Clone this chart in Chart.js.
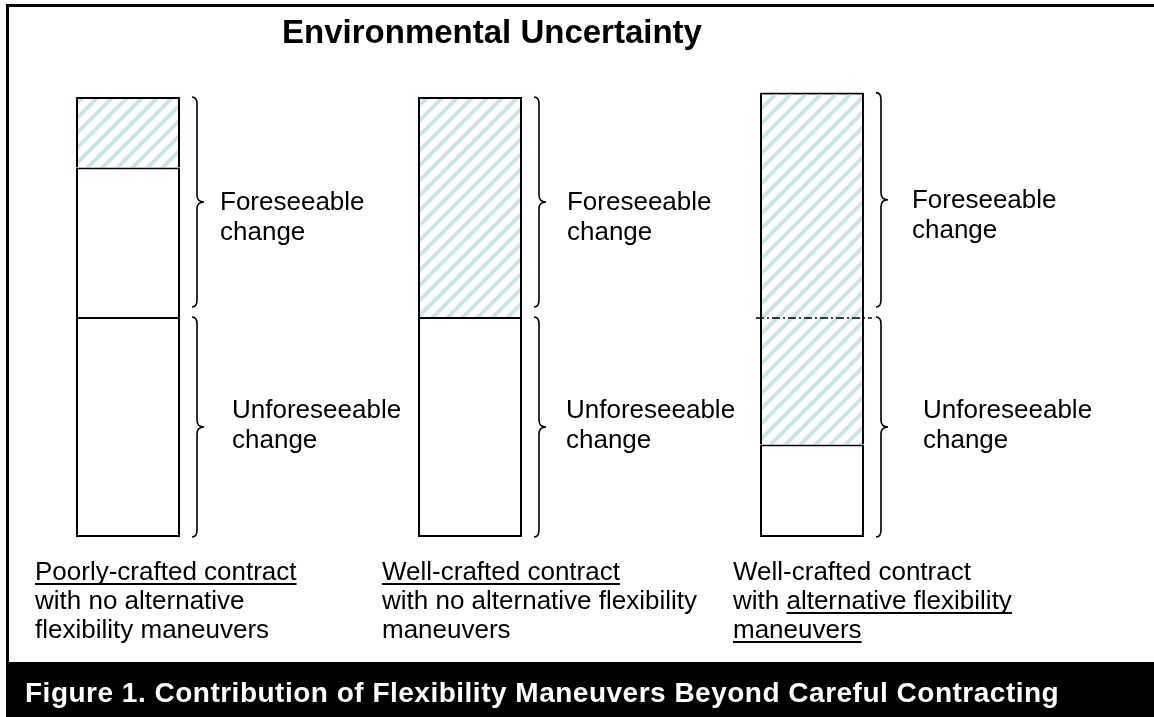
<!DOCTYPE html>
<html>
<head>
<meta charset="utf-8">
<title>Environmental Uncertainty</title>
<script src="https://cdn.jsdelivr.net/npm/chart.js@4.4.1/dist/chart.umd.min.js"></script>
<style>
  html, body { margin: 0; padding: 0; background: #fff; }
  #wrap { width: 1154px; height: 717px; }
</style>
</head>
<body>
<div id="wrap"><canvas id="chart" width="1154" height="717"></canvas></div>
<script>
// three contracts, one bar each
const categories = ["Poorly-crafted contract", "Well-crafted contract", "Well-crafted contract"];
// share of environmental change (unforeseeable at the bottom, foreseeable on top)
const unforeseeableUncovered = [50, 50, 21];
const unforeseeableCovered = [null, null, 29];
const foreseeableUncovered = [34, null, null];
const foreseeableCovered = [16, 50, 51];
const changeSplit = 50; // boundary between unforeseeable and foreseeable change

const chartTitle = "Environmental Uncertainty";
const figureCaption = "Figure 1. Contribution of Flexibility Maneuvers Beyond Careful Contracting";
const foreseeableText = ["Foreseeable", "change"];
const unforeseeableText = ["Unforeseeable", "change"];
// caption under each bar, u = underlined run
const barCaptions = [
  [[{ t: "Poorly-crafted contract", u: true }], [{ t: "with no alternative" }], [{ t: "flexibility maneuvers" }]],
  [[{ t: "Well-crafted contract", u: true }], [{ t: "with no alternative flexibility" }], [{ t: "maneuvers" }]],
  [[{ t: "Well-crafted contract" }], [{ t: "with " }, { t: "alternative flexibility", u: true }], [{ t: "maneuvers", u: true }]]
];

// layout tweaks (pixels)
const FONT = "'Liberation Sans', Arial, sans-serif";
const BAR_W = 104;
const foreTextDx = [40, 45, 48];     // from bar right edge
const unforeTextDx = [52, 44, 59];
const captionDx = [-93, -88, -79];   // from bar centre
const HATCH = "#c8e6ea";

function makeHatch() {
  const c = document.createElement("canvas");
  c.width = 15; c.height = 15;
  const g = c.getContext("2d");
  g.strokeStyle = HATCH;
  g.lineWidth = 4;
  g.beginPath();
  g.moveTo(-2, 17); g.lineTo(17, -2);
  g.moveTo(-2, 2); g.lineTo(2, -2);
  g.moveTo(13, 17); g.lineTo(17, 13);
  g.stroke();
  return g.createPattern(c, "repeat");
}

const hatch = makeHatch();
const toPoints = arr => arr.map((v, i) => ({ x: i, y: v }));
const totals = categories.map((c, i) =>
  [unforeseeableUncovered, unforeseeableCovered, foreseeableUncovered, foreseeableCovered]
    .reduce((s, a) => s + (a[i] || 0), 0));

function drawBrace(ctx, x, y1, y2) {
  const mid = (y1 + y2) / 2, r = 7, bx = x + 5, tip = x + 12;
  ctx.beginPath();
  ctx.moveTo(x, y1);
  ctx.quadraticCurveTo(bx, y1, bx, y1 + r);
  ctx.lineTo(bx, mid - r);
  ctx.quadraticCurveTo(bx, mid, tip, mid);
  ctx.quadraticCurveTo(bx, mid, bx, mid + r);
  ctx.lineTo(bx, y2 - r);
  ctx.quadraticCurveTo(bx, y2, x, y2);
  ctx.stroke();
}

const decorPlugin = {
  id: "decor",
  beforeDraw(chart) {
    const ctx = chart.ctx;
    ctx.save();
    ctx.fillStyle = "#fff";
    ctx.fillRect(0, 0, chart.width, chart.height);
    ctx.fillStyle = "#000";
    ctx.fillRect(6, 4, chart.width - 6, 3);
    ctx.fillRect(6, 4, 3, 660);
    ctx.fillRect(6, 662, chart.width - 6, chart.height - 662);
    ctx.fillStyle = "#fff";
    ctx.font = "bold 28px " + FONT;
    ctx.letterSpacing = "0.5px";
    ctx.textBaseline = "alphabetic";
    ctx.fillText(figureCaption, 25, 702);
    ctx.restore();
  },
  afterDatasetsDraw(chart) {
    const ctx = chart.ctx;
    const xs = chart.scales.x, ys = chart.scales.y;
    const ySplit = ys.getPixelForValue(changeSplit);
    const yZero = ys.getPixelForValue(0);
    ctx.save();
    ctx.strokeStyle = "#000";
    ctx.fillStyle = "#000";
    ctx.font = "26px " + FONT;
    ctx.textBaseline = "alphabetic";
    categories.forEach((cat, i) => {
      const cx = xs.getPixelForValue(i);
      const right = cx + BAR_W / 2;
      const yTop = ys.getPixelForValue(totals[i]);

      // dash-dot split line where hatching crosses the boundary
      if (unforeseeableCovered[i] != null) {
        ctx.save();
        ctx.lineWidth = 1.6;
        ctx.setLineDash([8, 3, 2, 3]);
        ctx.beginPath();
        ctx.moveTo(cx - BAR_W / 2 - 4, ySplit + 1);
        ctx.lineTo(right + 8, ySplit + 1);
        ctx.stroke();
        ctx.restore();
      }

      // braces
      ctx.lineWidth = 1.6;
      const fTop = yTop, fBot = ySplit - 10;
      drawBrace(ctx, right + 12, fTop, fBot);
      drawBrace(ctx, right + 12, ySplit, yZero);

      const fMid = (fTop + fBot) / 2;
      foreseeableText.forEach((t, k) => ctx.fillText(t, right + foreTextDx[i], fMid + 8 + k * 30));
      const uMid = (ySplit + yZero) / 2;
      unforeseeableText.forEach((t, k) => ctx.fillText(t, right + unforeTextDx[i], uMid - 9 + k * 30));

      // caption under the bar
      barCaptions[i].forEach((line, k) => {
        let x = cx + captionDx[i];
        const base = yZero + 43 + k * 29;
        line.forEach(run => {
          const w = ctx.measureText(run.t).width;
          ctx.fillText(run.t, x, base);
          if (run.u) ctx.fillRect(x, base + 3, w, 2);
          x += w;
        });
      });
    });
    ctx.restore();
  }
};

const common = {
  borderColor: "#000",
  borderSkipped: false,
  barThickness: BAR_W,
  inflateAmount: 0,
  stack: "change",
  clip: false
};
const bw = (top, bottom) => ({ top: top, bottom: bottom, left: 2, right: 2 });

new Chart(document.getElementById("chart"), {
  type: "bar",
  data: {
    datasets: [
      Object.assign({ label: "Unforeseeable change, not handled", data: toPoints(unforeseeableUncovered), backgroundColor: "#fff", borderWidth: bw(2, 2) }, common),
      Object.assign({ label: "Unforeseeable change, handled", data: toPoints(unforeseeableCovered), backgroundColor: hatch, borderWidth: bw(0, 0) }, common),
      Object.assign({ label: "Foreseeable change, not handled", data: toPoints(foreseeableUncovered), backgroundColor: "#fff", borderWidth: bw(2, 0) }, common),
      Object.assign({ label: "Foreseeable change, handled", data: toPoints(foreseeableCovered), backgroundColor: hatch, borderWidth: bw(2, 0) }, common)
    ]
  },
  options: {
    responsive: false,
    animation: false,
    layout: { padding: { left: 0, right: 170, top: 0, bottom: 180 } },
    scales: {
      x: { type: "linear", display: false, offset: false, stacked: true, min: -0.3743, max: 2.503 },
      y: { display: false, stacked: true, min: 0, max: Math.max(...totals) }
    },
    plugins: {
      legend: { display: false },
      tooltip: { enabled: false },
      title: {
        display: true,
        fullSize: false,
        text: chartTitle,
        color: "#000",
        font: { family: FONT, size: 33, weight: "bold", lineHeight: 1.2 },
        padding: { top: 14, bottom: 39 }
      }
    }
  },
  plugins: [decorPlugin]
});
</script>
</body>
</html>
